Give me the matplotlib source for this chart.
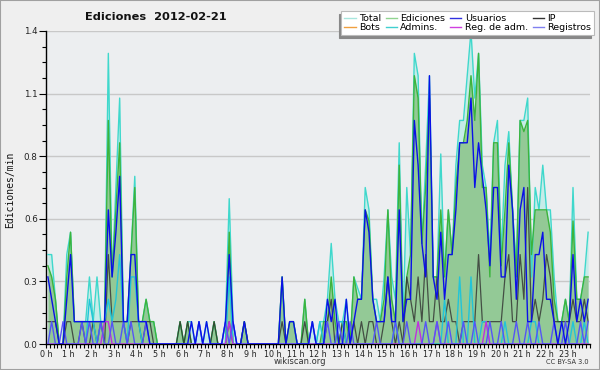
import numpy as np
import matplotlib
matplotlib.use("Agg")
import matplotlib.pyplot as plt
from matplotlib.patches import Rectangle
from matplotlib.ticker import MultipleLocator, FixedLocator, FuncFormatter

# 10-minute slots, values in edits/min
total = [0.4, 0.4, 0.2, 0.0, 0.0, 0.4,
         0.5, 0.1, 0.1, 0.1, 0.1, 0.3,
         0.1, 0.3, 0.1, 0.1, 1.3, 0.3,
         0.7, 1.1, 0.1, 0.1, 0.4, 0.75,
         0.1, 0.1, 0.2, 0.1, 0.1, 0.0,
         0, 0, 0, 0, 0, 0.1,
         0, 0.1, 0.1, 0, 0.1, 0,
         0.1, 0, 0.1, 0, 0, 0.1,
         0.65, 0.1, 0, 0, 0.1, 0,
         0, 0, 0, 0, 0, 0,
         0, 0, 0.3, 0, 0.1, 0.1,
         0, 0, 0.2, 0, 0.1, 0,
         0.1, 0.1, 0.2, 0.45, 0.2, 0.1,
         0.1, 0.2, 0, 0.3, 0.25, 0.2,
         0.7, 0.6, 0.2, 0.2, 0.1, 0.3,
         0.6, 0.3, 0.2, 0.9, 0.1, 0.7,
         0.4, 1.3, 1.2, 0.45, 0.8, 1.2,
         0.3, 0.3, 0.85, 0.3, 0.6, 0.4,
         0.8, 1.0, 1.0, 1.2, 1.4, 1.1,
         1.3, 0.8, 0.7, 0.4, 0.9, 1.0,
         0.4, 0.8, 0.95, 0.6, 0.35, 1.0,
         1.0, 1.1, 0.3, 0.7, 0.6, 0.8,
         0.6, 0.6, 0.3, 0.1, 0.1, 0.2,
         0.1, 0.7, 0.2, 0.2, 0.3, 0.5]
ediciones = [0.35, 0.3, 0.2, 0.0, 0.0, 0.3,
             0.5, 0.1, 0.1, 0.1, 0.1, 0.1,
             0.1, 0.1, 0.1, 0.1, 1.0, 0.3,
             0.6, 0.9, 0.1, 0.1, 0.4, 0.7,
             0.1, 0.1, 0.2, 0.1, 0.1, 0,
             0, 0, 0, 0, 0, 0.1,
             0, 0.1, 0, 0, 0, 0,
             0, 0, 0.1, 0, 0, 0,
             0.5, 0, 0, 0, 0.1, 0,
             0, 0, 0, 0, 0, 0,
             0, 0, 0.3, 0, 0.1, 0.1,
             0, 0, 0.2, 0, 0, 0,
             0, 0.1, 0.1, 0.3, 0.1, 0,
             0.1, 0.1, 0, 0.3, 0.2, 0.2,
             0.6, 0.55, 0.2, 0.1, 0.1, 0.2,
             0.6, 0.2, 0.1, 0.8, 0.1, 0.3,
             0.4, 1.2, 1.1, 0.45, 0.7, 1.1,
             0.3, 0.3, 0.6, 0.3, 0.6, 0.4,
             0.7, 0.9, 0.9, 1.0, 1.2, 1.0,
             1.3, 0.7, 0.7, 0.3, 0.9, 0.9,
             0.35, 0.6, 0.9, 0.6, 0.3, 1.0,
             0.95, 1.0, 0.4, 0.6, 0.6, 0.6,
             0.6, 0.5, 0.2, 0.1, 0.1, 0.2,
             0.1, 0.55, 0.2, 0.2, 0.3, 0.3]
usuarios = [0.3, 0.2, 0.1, 0, 0, 0.2,
            0.4, 0.1, 0.1, 0.1, 0.1, 0.1,
            0.1, 0.1, 0.1, 0.1, 0.6, 0.3,
            0.5, 0.75, 0.1, 0.1, 0.4, 0.4,
            0.1, 0.1, 0.1, 0, 0, 0,
            0, 0, 0, 0, 0, 0,
            0, 0, 0.1, 0, 0.1, 0,
            0.1, 0, 0, 0, 0, 0.1,
            0.4, 0.1, 0, 0, 0.1, 0,
            0, 0, 0, 0, 0, 0,
            0, 0, 0.3, 0, 0.1, 0.1,
            0, 0, 0, 0, 0.1, 0,
            0, 0, 0.2, 0.1, 0.2, 0,
            0, 0.2, 0, 0.1, 0.2, 0.2,
            0.6, 0.5, 0.2, 0.1, 0.1, 0.1,
            0.3, 0.1, 0.1, 0.6, 0.1, 0.2,
            0.2, 1.0, 0.8, 0.45, 0.3, 1.2,
            0.3, 0.2, 0.5, 0.2, 0.4, 0.4,
            0.6, 0.9, 0.9, 0.9, 1.1, 0.7,
            0.9, 0.75, 0.6, 0.35, 0.7, 0.7,
            0.3, 0.3, 0.8, 0.6, 0.2, 0.6,
            0.7, 0.1, 0.1, 0.4, 0.4, 0.5,
            0.2, 0.2, 0.1, 0, 0.1, 0,
            0.1, 0.4, 0.1, 0.2, 0.1, 0.2]
ip = [0.1, 0.1, 0.1, 0, 0, 0.1,
      0.1, 0, 0, 0.1, 0, 0,
      0.1, 0, 0.1, 0, 0.4, 0.1,
      0.1, 0.1, 0.1, 0, 0.1, 0.1,
      0.1, 0, 0.1, 0.1, 0, 0,
      0, 0, 0, 0, 0, 0.1,
      0, 0.1, 0, 0, 0, 0,
      0, 0, 0.1, 0, 0, 0,
      0.1, 0, 0, 0, 0.1, 0,
      0, 0, 0, 0, 0, 0,
      0, 0, 0.1, 0, 0, 0,
      0, 0, 0.1, 0, 0, 0,
      0, 0, 0.1, 0.2, 0, 0,
      0.1, 0, 0, 0.1, 0, 0.1,
      0, 0.1, 0.1, 0, 0, 0.1,
      0.3, 0.1, 0, 0.1, 0, 0.3,
      0.2, 0.1, 0.3, 0.1, 0.4, 0.1,
      0.1, 0.3, 0.1, 0.1, 0.2, 0.1,
      0.1, 0, 0.1, 0.1, 0.1, 0.1,
      0.4, 0.1, 0.1, 0.1, 0.1, 0.1,
      0.1, 0.3, 0.4, 0.1, 0.1, 0.4,
      0.2, 0.7, 0.1, 0.2, 0.1, 0.2,
      0.4, 0.3, 0.1, 0.1, 0.1, 0.1,
      0.1, 0.2, 0.1, 0.1, 0.2, 0.1]
admins = [0, 0, 0, 0, 0, 0,
          0, 0, 0, 0, 0, 0.2,
          0.1, 0, 0.1, 0.1, 0.2, 0.1,
          0.2, 0.4, 0.1, 0, 0.3, 0.3,
          0.1, 0, 0, 0, 0, 0,
          0, 0, 0, 0, 0, 0,
          0, 0, 0, 0, 0, 0,
          0, 0, 0, 0, 0, 0,
          0.3, 0, 0, 0, 0, 0,
          0, 0, 0, 0, 0, 0,
          0, 0, 0, 0, 0, 0,
          0, 0, 0, 0, 0, 0,
          0.1, 0, 0, 0, 0, 0.1,
          0.1, 0, 0, 0, 0, 0,
          0, 0, 0, 0, 0, 0,
          0, 0, 0.1, 0, 0, 0,
          0, 0, 0, 0, 0, 0,
          0, 0, 0, 0.2, 0, 0,
          0, 0.3, 0, 0, 0.3, 0,
          0, 0.1, 0.1, 0, 0, 0,
          0, 0.1, 0, 0, 0, 0,
          0, 0, 0.1, 0.1, 0, 0,
          0, 0, 0, 0, 0, 0,
          0, 0.1, 0, 0, 0.1, 0]
registros = [0, 0.1, 0, 0, 0.1, 0,
             0, 0, 0, 0.1, 0, 0.1,
             0, 0, 0.1, 0, 0, 0.1,
             0, 0, 0.1, 0, 0.1, 0,
             0, 0, 0.1, 0, 0, 0,
             0, 0, 0, 0, 0, 0,
             0, 0, 0, 0, 0.1, 0,
             0, 0, 0, 0, 0, 0.1,
             0, 0.1, 0, 0, 0, 0,
             0, 0, 0, 0, 0, 0,
             0, 0, 0, 0, 0, 0,
             0, 0, 0, 0, 0.1, 0,
             0, 0, 0.1, 0, 0, 0.1,
             0, 0, 0.1, 0, 0, 0,
             0, 0, 0, 0.1, 0, 0,
             0, 0, 0.1, 0, 0, 0.1,
             0, 0, 0, 0, 0.1, 0,
             0, 0.1, 0, 0, 0.1, 0,
             0, 0, 0.1, 0, 0, 0.1,
             0, 0, 0, 0.1, 0, 0,
             0.1, 0, 0, 0, 0.1, 0,
             0, 0.1, 0, 0, 0.1, 0,
             0, 0, 0.1, 0, 0, 0.1,
             0, 0, 0, 0.1, 0, 0.1]
reg_adm = [0] * 144
for _i in (15, 16, 48, 98, 103, 116):
    reg_adm[_i] = 0.1
bots = [0] * 144

hour_labels = [f"{h} h" for h in range(24)]
y_ticks = [0.0, 0.28, 0.56, 0.84, 1.12, 1.4]

n = len(total)
x = (np.arange(n) + 0.5) / 6.0

fig = plt.figure(figsize=(6, 3.7), dpi=100, facecolor="#efefef")
ax = fig.add_axes([46 / 600, 1 - 344 / 370, 544 / 600, 313 / 370])
ax.set_facecolor("#eceef0")

ax.fill_between(x, total, 0, color="#c6ece8", lw=0, zorder=1)
ax.fill_between(x, ediciones, 0, color="#93c996", lw=0, zorder=2)
ax.plot(x, total, color="#3fd8cc", lw=1.0, zorder=3)
ax.plot(x, ediciones, color="#3cb43c", lw=1.0, zorder=4)
ax.plot(x, bots, color="#f0a040", lw=1.0, zorder=4)
ax.plot(x, ip, color="#303030", lw=0.9, alpha=0.8, zorder=5)
ax.plot(x, admins, color="#22c4d8", lw=1.0, zorder=6)
ax.plot(x, reg_adm, color="#c030e0", lw=1.0, zorder=6)
ax.plot(x, registros, color="#5555f5", lw=1.0, zorder=6)
ax.plot(x, usuarios, color="#0a10e8", lw=1.0, zorder=7)

ax.set_xlim(0, 24)
ax.set_ylim(0, 1.4)
ax.xaxis.set_major_locator(FixedLocator(list(range(24))))
ax.set_xticklabels(hour_labels)
ax.xaxis.set_minor_locator(MultipleLocator(1 / 6))
ax.yaxis.set_major_locator(FixedLocator(y_ticks))
ax.yaxis.set_major_formatter(FuncFormatter(lambda v, p: f"{v:.1f}"))
ax.yaxis.set_minor_locator(MultipleLocator(0.07))
ax.tick_params(axis="both", which="both", direction="out", color="black",
               labelcolor="#222222")
ax.tick_params(axis="x", which="both", length=3, width=0.8, pad=1,
               labelsize=5.8)
ax.tick_params(axis="y", which="major", length=5, width=0.8, pad=1,
               labelsize=6.3)
ax.tick_params(axis="y", which="minor", length=3, width=0.8)
for s in ("top", "right"):
    ax.spines[s].set_visible(False)
for s in ("left", "bottom"):
    ax.spines[s].set_color("black")
    ax.spines[s].set_linewidth(1.0)
ax.grid(axis="y", which="major", color="#c8c8c8", lw=1.0)
ax.set_axisbelow(True)

fig.text(85 / 600, 1 - 17 / 370, "Ediciones  2012-02-21", fontsize=8.2,
         fontweight="bold", ha="left", va="center", color="#111111")
fig.text(10 / 600, 1 - 190 / 370, "Ediciones/min", rotation=90, fontsize=7,
         family="DejaVu Sans Mono", ha="center", va="center", color="#111111")
fig.text(300 / 600, 1 - 362 / 370, "wikiscan.org", fontsize=6,
         ha="center", va="center", color="#333333")
fig.text(589 / 600, 1 - 362 / 370, "CC BY-SA 3.0", fontsize=4.8,
         ha="right", va="center", color="#333333")

names = ["Total", "Bots", "Ediciones", "Admins.", "Usuarios", "Reg. de adm.",
         "IP", "Registros"]
colors = ["#a8e6de", "#f0a040", "#90d490", "#40d0d0", "#3030e0", "#d040e0",
          "#333333", "#8080f0"]
handles = [plt.Line2D([], [], color=c, lw=1.0) for c in colors]
leg = fig.legend(handles, names, ncol=4, loc="upper right",
                 bbox_to_anchor=(594 / 600, 1 - 11 / 370), fontsize=6.8,
                 frameon=True, fancybox=False, handlelength=1.2,
                 handletextpad=0.35, columnspacing=0.5, labelspacing=0.05,
                 borderpad=0.3, borderaxespad=0,
                 shadow={"ox": -2, "oy": -2, "color": "#888888", "alpha": 1})
leg.get_frame().set_facecolor("white")
leg.get_frame().set_edgecolor("#bbbbbb")
leg.get_frame().set_linewidth(0.8)

fig.patches.append(Rectangle((0, 0), 1, 1, transform=fig.transFigure,
                             fill=False, edgecolor="#a0a0a0", lw=1.5))

fig.savefig("out.png", dpi=100, facecolor=fig.get_facecolor())
